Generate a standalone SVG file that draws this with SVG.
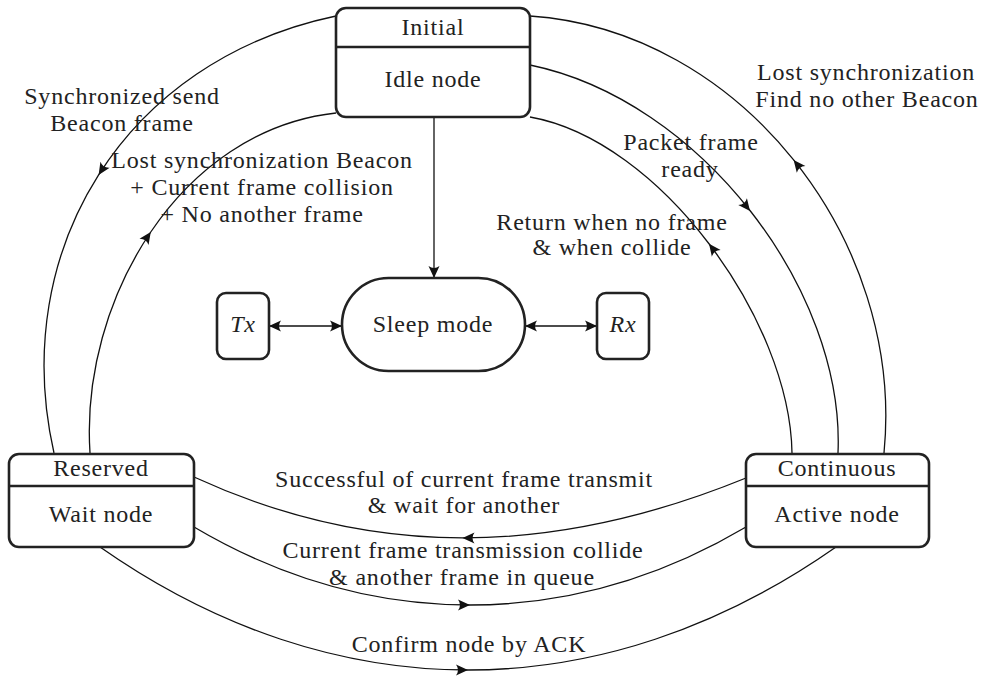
<svg xmlns="http://www.w3.org/2000/svg" xmlns:xlink="http://www.w3.org/1999/xlink" width="985" height="677" viewBox="0 0 985 677">
<style>
.node{fill:#fff;stroke:#222;stroke-width:2.6}
.div{stroke:#222;stroke-width:2.6}
.edge{fill:none;stroke:#111;stroke-width:1.3}
.ah{fill:#111}
</style>
<defs>
<path id="ah" class="ah" d="M0,0 L-12,-5.5 Q-8,0 -12,5.5 Z"/>
<marker id="arr" viewBox="-13 -7 14 14" refX="0" refY="0" markerWidth="14" markerHeight="14" markerUnits="userSpaceOnUse" orient="auto-start-reverse">
<path class="ah" d="M0,0 L-12,-5.5 Q-8,0 -12,5.5 Z"/>
</marker>
</defs>

<g id="connectors">
<path class="edge" d="M336,16 C125,60 8,250 54,453"/>
<use xlink:href="#ah" transform="translate(98.6,174.9) rotate(122.5)"/>
<path class="edge" d="M90,453 C80,300 180,130 336,113"/>
<use xlink:href="#ah" transform="translate(150.75,232) rotate(-55.8)"/>
<path class="edge" d="M884,453 C905,240 740,30 530,16"/>
<use xlink:href="#ah" transform="translate(793.6,160) rotate(-128.7)"/>
<path class="edge" d="M530,65 C700,100 845,290 838,453"/>
<use xlink:href="#ah" transform="translate(750,211) rotate(51.9)"/>
<path class="edge" d="M792,453 C790,320 660,140 530,117"/>
<use xlink:href="#ah" transform="translate(709,243.75) rotate(-127.2)"/>
<path class="edge" d="M746,478 C550,558 370,558 194,477"/>
<use xlink:href="#ah" transform="translate(462.5,538) rotate(180)"/>
<path class="edge" d="M194,527 C370,631 570,631 746,527"/>
<use xlink:href="#ah" transform="translate(470,605) rotate(0)"/>
<path class="edge" d="M100,547 C334,711 602,711 836,547"/>
<use xlink:href="#ah" transform="translate(468,670) rotate(0)"/>
<path class="edge" d="M434,117 L434,278" marker-end="url(#arr)"/>
<path class="edge" d="M269,326 L342,326" marker-start="url(#arr)" marker-end="url(#arr)"/>
<path class="edge" d="M525,326 L597,326" marker-start="url(#arr)" marker-end="url(#arr)"/>
</g>

<g font-family="Liberation Serif, DejaVu Serif, serif" font-size="24" fill="#222" letter-spacing="0.8" text-anchor="middle">
<g id="initial">
<rect class="node" x="336" y="8" width="194" height="109" rx="10"/>
<line class="div" x1="336" y1="47" x2="530" y2="47"/>
<text x="433" y="35">Initial</text>
<text x="433" y="87">Idle node</text>
</g>

<g id="reserved">
<rect class="node" x="9" y="454" width="185" height="93" rx="10"/>
<line class="div" x1="9" y1="486" x2="194" y2="486"/>
<text x="101" y="476">Reserved</text>
<text x="101" y="522">Wait node</text>
</g>

<g id="continuous">
<rect class="node" x="746" y="454" width="183" height="93" rx="10"/>
<line class="div" x1="746" y1="486" x2="929" y2="486"/>
<text x="837" y="476">Continuous</text>
<text x="837" y="522">Active node</text>
</g>

<g id="sleep">
<rect class="node" x="342" y="278" width="183" height="93" rx="46.5"/>
<text x="433" y="332">Sleep mode</text>
</g>

<g id="tx">
<rect class="node" x="217" y="293" width="52" height="66" rx="9"/>
<text font-style="italic" x="243" y="332">Tx</text>
</g>

<g id="rx">
<rect class="node" x="597" y="293" width="52" height="66" rx="9"/>
<text font-style="italic" x="623" y="332">Rx</text>
</g>

<g id="labels">
<text x="122" y="104">Synchronized send</text>
<text x="122" y="131">Beacon frame</text>
<text x="262" y="168">Lost synchronization Beacon</text>
<text x="262" y="195">+ Current frame collision</text>
<text x="262" y="222">+ No another frame</text>
<text x="866" y="80">Lost synchronization</text>
<text x="867" y="107">Find no other Beacon</text>
<text x="691" y="150">Packet frame</text>
<text x="690" y="177">ready</text>
<text x="612" y="230">Return when no frame</text>
<text x="612" y="255">&amp; when collide</text>
<text x="464" y="487">Successful of current frame transmit</text>
<text x="464" y="513">&amp; wait for another</text>
<text x="463" y="558">Current frame transmission collide</text>
<text x="462" y="585">&amp; another frame in queue</text>
<text x="469" y="652">Confirm node by ACK</text>
</g>
</g>
</svg>
